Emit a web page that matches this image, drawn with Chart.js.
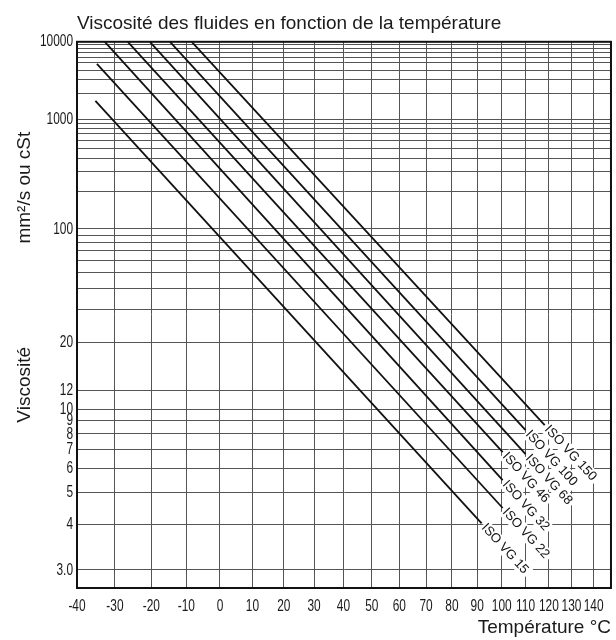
<!DOCTYPE html>
<html lang="fr">
<head>
<meta charset="utf-8">
<title>Viscosité des fluides</title>
<script src="https://cdn.jsdelivr.net/npm/chart.js@4.4.1/dist/chart.umd.min.js"></script>
<style>
  html, body { margin: 0; padding: 0; background: #fff; }
</style>
</head>
<body>
<canvas id="viscosity-chart" width="616" height="640"></canvas>
<script>
// Viscosity / temperature chart (ISO VG grades)
const grades = ['ISO VG 15', 'ISO VG 22', 'ISO VG 32', 'ISO VG 46', 'ISO VG 68', 'ISO VG 100', 'ISO VG 150'];
const startTemps = [-35.2, -34.8, -32.7, -26.5, -20.4, -14.7, -8.4];
const startVisc = [1640, 4870, 10000, 10000, 10000, 10000, 10000];
const endTemps = [91.8, 100.4, 100.4, 100.4, 110, 110, 118.2];
const endVisc = [4.03, 4.48, 5.49, 6.85, 6.74, 8.26, 8.64];

const tempTicks = [-40, -30, -20, -10, 0, 10, 20, 30, 40, 50, 60, 70, 80, 90, 100, 110, 120, 130, 140];
const viscGrid = [3, 4, 5, 6, 7, 8, 9, 10, 12, 20, 30, 40, 50, 60, 70, 80, 90, 100,
  200, 300, 400, 500, 600, 700, 800, 900, 1000,
  2000, 3000, 4000, 5000, 6000, 7000, 8000, 9000, 10000];
const viscLabels = [3, 4, 5, 6, 7, 8, 9, 10, 12, 20, 100, 1000, 10000];
const viscLabelText = ['3.0', '4', '5', '6', '7', '8', '9', '10', '12', '20', '100', '1000', '10000'];

const sideTitles = ['mm²/s ou cSt', 'Viscosité'];

const mainFont = 'Arial, "Liberation Sans", sans-serif';
const labelSqueeze = 0.7; // tick numbers are printed in a narrow face on the original

// scales for the chart paper: log of absolute temperature, Walther log-log viscosity
function registerScale(id, toAxis) {
  class PaperScale extends Chart.Scale {
    determineDataLimits() {
      this.min = this.options.min;
      this.max = this.options.max;
    }
    buildTicks() {
      return [];
    }
    configure() {
      super.configure();
      this._lo = toAxis(this.min);
      this._hi = toAxis(this.max);
    }
    getPixelForValue(value) {
      return this.getPixelForDecimal((toAxis(value) - this._lo) / (this._hi - this._lo));
    }
    getValueForPixel() {
      return null;
    }
    getLabelForValue(value) {
      return String(value);
    }
    drawLabels(area) {
      const ctx = this.ctx;
      const fill = ctx.fillText;
      ctx.fillText = function (text, x, y) {
        this.save();
        this.translate(x, y);
        this.scale(labelSqueeze, 1);
        fill.call(this, text, 0, 0);
        this.restore();
      };
      super.drawLabels(area);
      ctx.fillText = fill;
    }
  }
  PaperScale.id = id;
  PaperScale.defaults = {};
  Chart.register(PaperScale);
}
registerScale('temperature', t => Math.log10(t + 273.15));
registerScale('walther', v => Math.log10(Math.log10(v + 0.7)));

// frame round the plot area
const frame = {
  id: 'frame',
  afterDatasetsDraw(chart) {
    const { ctx, chartArea: a } = chart;
    ctx.save();
    ctx.strokeStyle = '#111';
    ctx.lineWidth = 2;
    ctx.strokeRect(a.left, a.top, a.right - a.left, a.bottom - a.top);
    ctx.restore();
  }
};

// grade names written along the end of each line
const gradeLabels = {
  id: 'gradeLabels',
  afterDatasetsDraw(chart) {
    const ctx = chart.ctx;
    ctx.save();
    ctx.font = '13px ' + mainFont;
    ctx.textBaseline = 'middle';
    const items = chart.data.datasets.map((ds, i) => {
      const pts = chart.getDatasetMeta(i).data;
      const a = pts[0], b = pts[pts.length - 1];
      return { text: ds.label, x: b.x, y: b.y, ang: Math.atan2(b.y - a.y, b.x - a.x), w: ctx.measureText(ds.label).width };
    });
    items.forEach(it => {
      ctx.save();
      ctx.translate(it.x, it.y);
      ctx.rotate(it.ang);
      ctx.fillStyle = '#fff';
      ctx.fillRect(2, -7, it.w + 4, 14);
      ctx.restore();
    });
    items.forEach(it => {
      ctx.save();
      ctx.translate(it.x, it.y);
      ctx.rotate(it.ang);
      ctx.fillStyle = '#111';
      ctx.fillText(it.text, 3, 0);
      ctx.restore();
    });
    ctx.restore();
  }
};

// the two parts of the vertical axis title
const yTitles = {
  id: 'yTitles',
  afterDraw(chart) {
    const { ctx, chartArea: a } = chart;
    const pos = [0.267, 0.628];
    ctx.save();
    ctx.font = '19px ' + mainFont;
    ctx.fillStyle = '#1a1a1a';
    ctx.textAlign = 'center';
    ctx.textBaseline = 'middle';
    sideTitles.forEach((t, i) => {
      ctx.save();
      ctx.translate(25, a.top + pos[i] * (a.bottom - a.top));
      ctx.rotate(-Math.PI / 2);
      ctx.fillText(t, 0, 0);
      ctx.restore();
    });
    ctx.restore();
  }
};

const viscData = {
  datasets: grades.map((g, i) => ({
    label: g,
    data: [{ x: startTemps[i], y: startVisc[i] }, { x: endTemps[i], y: endVisc[i] }],
    borderColor: '#111',
    borderWidth: 1.8,
    pointRadius: 0,
    fill: false,
    tension: 0
  }))
};

const viscConfig = {
  type: 'line',
  data: viscData,
  options: {
    responsive: false,
    animation: false,
    layout: { padding: { left: 0, right: 4, top: 0, bottom: 0 } },
    scales: {
      x: {
        type: 'temperature',
        position: 'bottom',
        min: -40,
        max: 148,
        afterBuildTicks: s => { s.ticks = tempTicks.map(v => ({ value: v })); },
        afterFit: s => { s.height = 52; },
        grid: { color: '#555', lineWidth: 1, drawTicks: false },
        border: { display: true, color: '#111', width: 2 },
        ticks: {
          autoSkip: false,
          maxRotation: 0,
          padding: 8,
          color: '#1a1a1a',
          font: { family: mainFont, size: 17 },
          callback: v => String(v)
        },
        title: {
          display: true,
          text: 'Température °C',
          align: 'end',
          color: '#1a1a1a',
          font: { family: mainFont, size: 19 },
          padding: { top: 0, bottom: 1 }
        }
      },
      y: {
        type: 'walther',
        position: 'left',
        min: 2.7,
        max: 10000,
        afterBuildTicks: s => { s.ticks = viscGrid.map(v => ({ value: v })); },
        afterFit: s => { s.width = 77; },
        grid: { color: '#555', lineWidth: 1, drawTicks: false },
        border: { display: true, color: '#111', width: 2 },
        ticks: {
          autoSkip: false,
          padding: 4,
          color: '#1a1a1a',
          font: { family: mainFont, size: 17 },
          callback: v => {
            const i = viscLabels.indexOf(v);
            return i < 0 ? '' : viscLabelText[i];
          }
        }
      }
    },
    plugins: {
      legend: { display: false },
      tooltip: { enabled: false },
      title: {
        display: true,
        text: 'Viscosité des fluides en fonction de la température',
        align: 'start',
        fullSize: false,
        color: '#1a1a1a',
        font: { family: mainFont, size: 19, weight: 'normal' },
        padding: { top: 12, bottom: 7 }
      }
    }
  },
  plugins: [frame, gradeLabels, yTitles]
};

new Chart(document.getElementById('viscosity-chart'), viscConfig);
</script>
</body>
</html>
